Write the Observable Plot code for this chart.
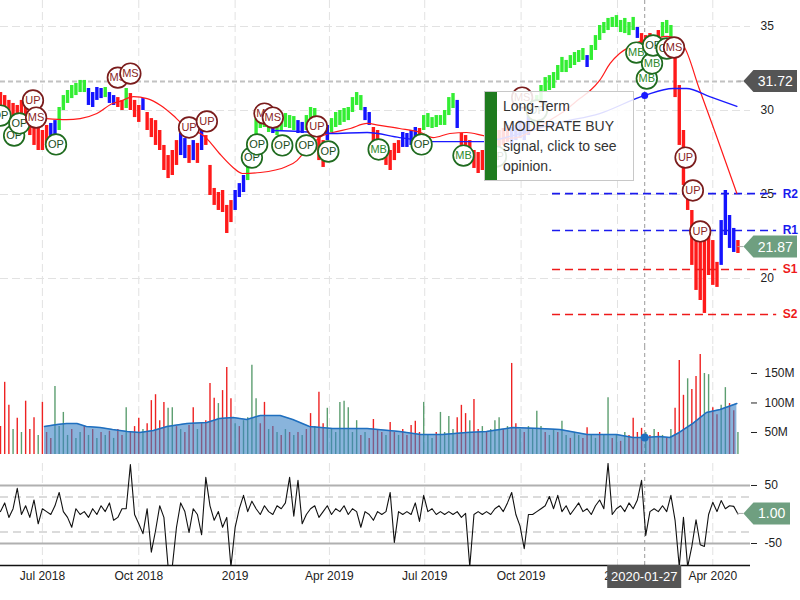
<!DOCTYPE html>
<html><head><meta charset="utf-8">
<script src="https://cdn.jsdelivr.net/npm/d3@7"></script>
<script src="https://cdn.jsdelivr.net/npm/@observablehq/plot@0.6"></script>
<style>
body{margin:0;background:#fff;font-family:"Liberation Sans",Arial,sans-serif;}
#wrap{position:relative;width:800px;height:600px;overflow:hidden;background:#fff;}
#wrap svg{display:block;}
#tip{position:absolute;left:484px;top:91px;width:150px;height:90px;box-sizing:border-box;background:rgba(255,255,255,0.86);border:1px solid #c8c8c8;}
#tip .bar{position:absolute;left:0;top:0;bottom:0;width:12px;background:#1e7b1e;}
#tip .txt{position:absolute;left:18px;top:4px;font-size:14px;line-height:20px;color:#333;white-space:nowrap;}
</style></head>
<body><div id="wrap"></div>
<script>
// ---------- data ----------
const sampleStart = "2018-05-22";
const sampleStepDays = 4;
const barHigh = [
31.07,30.89,30.60,30.42,30.30,30.60,30.42,30.00,29.23,28.93,
28.81,29.11,29.23,29.40,30.18,30.89,31.19,31.49,31.61,31.79,
31.79,31.31,31.07,31.37,31.31,31.37,31.07,30.89,30.77,30.60,
31.31,31.01,30.60,30.30,30.71,29.88,29.52,29.40,28.81,27.92,
27.32,27.62,28.21,28.63,28.33,27.92,28.21,28.04,28.81,28.51,
26.73,25.36,25.12,25.24,24.35,24.64,25.24,25.65,26.13,27.14,
28.51,29.52,29.88,30.00,29.70,29.58,29.52,29.70,29.82,29.70,
29.64,29.40,29.29,29.70,30.18,30.12,28.51,28.21,29.11,29.52,
29.88,30.00,30.12,30.18,30.77,31.07,30.89,30.18,29.88,28.99,
28.81,28.21,27.92,27.62,28.04,28.21,28.69,28.63,28.81,28.99,
28.93,29.70,29.82,29.58,29.70,29.70,30.00,30.77,31.01,30.60,
28.63,28.51,28.21,27.62,27.50,27.62,27.92,28.21,28.51,28.81,
28.93,29.11,28.99,29.11,29.40,29.29,29.70,30.30,30.89,31.49,
31.96,32.08,32.26,32.68,33.16,32.98,33.27,33.45,33.57,33.69,
33.27,33.87,34.46,35.06,35.24,35.48,35.54,35.65,35.36,35.48,
35.24,35.54,34.94,34.58,34.46,34.58,34.46,34.76,35.24,35.36,
35.06,34.17,31.49,28.81,25.54,24.05,23.15,22.56,22.26,22.86,
22.26,20.96,23.45,25.24,23.75,22.98,22.26];
const barLow = [
30.00,29.88,29.40,29.11,28.99,29.40,29.23,28.51,27.92,27.62,
27.62,27.92,28.39,28.51,28.81,30.00,30.42,30.71,30.89,31.07,
31.07,30.30,30.18,30.60,30.71,30.77,30.42,30.30,30.18,30.00,
30.12,30.00,29.58,29.29,30.00,28.81,28.39,27.92,27.62,26.43,
25.95,26.13,26.73,27.32,27.14,26.85,27.02,26.85,27.62,27.92,
24.94,24.35,24.05,23.93,22.68,23.33,24.05,24.82,25.12,25.83,
27.02,28.21,28.93,28.99,28.69,28.63,28.51,28.81,28.99,28.93,
28.81,28.63,28.63,28.81,29.29,29.11,27.02,26.61,28.21,28.69,
28.99,29.11,29.29,29.40,29.88,30.30,30.00,29.40,29.11,27.92,
27.80,27.02,26.73,26.43,27.02,27.44,27.80,27.80,27.92,28.21,
28.04,28.81,28.99,28.93,28.99,29.11,29.11,29.70,30.12,28.93,
27.92,27.80,27.32,26.55,26.25,26.43,26.73,27.02,27.62,27.74,
27.92,28.10,27.92,28.21,28.33,28.21,28.51,29.11,29.70,30.60,
31.07,31.19,31.31,31.79,32.26,32.26,32.50,32.68,32.86,32.98,
32.56,32.98,33.57,34.17,34.58,34.76,34.94,34.94,34.64,34.58,
34.46,34.76,34.29,33.99,33.99,34.05,33.87,34.05,34.35,34.58,
34.17,30.77,27.92,25.54,24.05,20.78,19.29,18.69,17.92,20.18,
19.59,19.47,20.78,22.56,21.79,21.55,21.49];
const trendRuns = [[12,"down"],[2,"neutral"],[7,"up"],[4,"neutral"],[1,"up"],[2,"neutral"],[2,"down"],[1,"up"],[3,"down"],[1,"neutral"],[8,"down"],[2,"neutral"],[1,"down"],[1,"neutral"],[1,"down"],[1,"neutral"],[7,"down"],[3,"neutral"],[6,"up"],[1,"neutral"],[5,"up"],[2,"neutral"],[3,"up"],[2,"down"],[1,"neutral"],[8,"up"],[2,"neutral"],[7,"down"],[4,"neutral"],[1,"down"],[8,"up"],[1,"neutral"],[12,"down"],[5,"neutral"],[13,"up"],[1,"neutral"],[11,"up"],[1,"neutral"],[5,"down"],[3,"up"],[11,"down"],[4,"neutral"],[1,"down"]];
const volumeM = [
60,135,96,55,74,50,103,55,75,45,
101,50,40,128,60,84,45,55,40,50,
60,45,55,40,50,45,52,40,55,45,
92,50,60,74,55,65,104,114,70,101,
91,92,60,55,50,62,92,55,65,70,
133,108,99,121,160,107,65,60,70,75,
164,107,65,101,55,60,50,45,55,50,
45,50,45,55,82,60,118,65,91,55,
50,101,103,92,50,70,45,50,40,72,
55,50,45,67,50,45,55,45,62,69,
50,101,45,40,50,84,50,77,55,75,
96,82,70,106,55,60,50,55,70,75,
55,60,167,65,55,50,60,55,86,60,
50,45,55,50,69,45,40,50,45,40,
58,45,40,50,45,109,40,45,35,50,
45,74,50,57,50,45,55,50,45,40,
55,91,172,113,141,123,145,182,150,148,
92,80,96,126,99,87,50];
const volumeDir = "rrrgrgrrrg" + "rrrggggrgg" + "rgrgrgrgrr" + "grrrgrrrrr" + "ggrgrrrgrr" +
  "rrgrrrgrgg" + "ggrrgrgrgr" + "grgrrgrrgg" + "ggggggrgrr" + "rrgrrgrrrr" + "rgggrggggr" +
  "rrgrrgrggg" + "rgrrgrgggg" + "rggrggrggr" + "rggrggrgrg" + "rrrrgrgrgr" + "grrrgrrrgg" + "rrggrrg";
const oscillator = [
5,20,-5,10,45,0,15,-5,25,-16,
10,5,0,15,38,5,-5,-22,10,0,
5,-5,10,0,15,5,20,-10,-5,10,
10,86,0,-16,-33,10,-65,-28,15,-5,
-90,-90,-22,20,5,-31,10,0,-35,64,
15,-10,5,-22,-5,-90,-22,10,33,5,
23,10,0,15,5,0,15,10,20,64,
-3,59,-16,0,10,15,-5,5,15,0,
10,5,15,0,10,5,-22,5,0,-10,
5,0,5,38,-48,5,0,5,0,20,
-12,33,5,10,0,5,0,5,0,5,
-5,2,-90,0,5,0,5,0,10,15,
5,20,38,0,-20,-59,0,0,5,10,
15,31,10,33,5,15,0,10,20,5,
10,0,15,25,10,88,0,10,15,5,
20,10,25,59,-36,5,10,5,15,5,
33,-10,-90,-5,-90,-55,-9,-52,-55,0,
21,5,24,10,15,14,1];
const fastMADates = ["2018-07-05","2018-07-24","2018-08-06","2018-08-22","2018-09-06","2018-09-13","2018-09-26","2018-10-09","2018-10-22","2018-11-03","2018-11-10","2018-12-05","2018-12-17","2018-12-30","2019-01-08","2019-01-25","2019-02-19","2019-03-01","2019-03-07","2019-03-16","2019-03-26","2019-04-04","2019-04-21","2019-05-07","2019-05-19","2019-06-07","2019-06-27","2019-07-09","2019-07-25","2019-08-10","2019-08-26","2019-09-11","2019-09-27","2019-10-12","2019-10-28","2019-11-12","2019-11-26","2019-12-06","2019-12-15","2019-12-25","2020-01-03","2020-01-13","2020-01-22","2020-02-06","2020-02-17","2020-02-27","2020-03-05","2020-03-19","2020-04-05","2020-04-24"];
const fastMAValues = [29.52,29.46,29.52,29.82,30.42,30.54,30.83,30.71,30.30,29.70,29.29,28.33,27.44,26.61,26.25,26.31,26.67,27.02,27.44,28.04,28.51,28.69,28.93,29.23,29.11,28.93,28.69,28.39,28.63,28.69,28.51,28.33,28.39,28.81,29.40,30.00,30.71,31.19,31.79,32.80,33.39,33.81,34.11,34.29,34.41,34.17,33.75,31.31,28.39,25.06];
const slowMADates = ["2019-02-06","2019-03-04","2019-04-01","2019-05-07","2019-06-07","2019-07-09","2019-08-26","2019-09-30","2019-11-07","2019-12-15","2020-01-27","2020-02-23","2020-03-07","2020-03-29","2020-04-24"];
const slowMAValues = [28.81,28.75,28.63,28.69,28.39,28.15,28.15,28.63,29.29,29.82,30.90,31.31,31.31,30.83,30.24];
const volMADates = ["2018-07-03","2018-07-15","2018-07-24","2018-08-03","2018-08-12","2018-08-25","2018-09-06","2018-09-20","2018-10-02","2018-10-15","2018-10-28","2018-11-16","2018-12-05","2018-12-17","2018-12-30","2019-01-12","2019-01-25","2019-02-13","2019-02-25","2019-03-13","2019-04-04","2019-05-07","2019-06-07","2019-06-27","2019-07-18","2019-08-10","2019-08-29","2019-09-23","2019-10-19","2019-11-07","2019-12-03","2019-12-31","2020-01-16","2020-01-27","2020-02-10","2020-02-20","2020-02-29","2020-03-13","2020-03-26","2020-04-08","2020-04-24"];
const volMAValues = [60.2,63.6,65.3,65.3,60.2,58.5,55.1,51.7,50.0,53.4,60.2,65.3,66.9,73.7,75.4,72.0,78.8,78.8,72.0,60.2,56.8,56.8,51.7,46.6,46.6,50.0,51.7,58.5,56.8,55.1,46.6,46.6,41.5,41.5,43.2,41.5,50.0,65.3,83.9,89.0,99.2];
const signalDates = ["2018-05-22","2018-06-04","2018-06-09","2018-06-22","2018-06-25","2018-07-14","2018-09-11","2018-09-23","2018-11-18","2018-12-05","2019-01-17","2019-01-22","2019-01-29","2019-02-06","2019-02-15","2019-03-10","2019-03-20","2019-03-31","2019-05-18","2019-06-28","2019-08-07","2019-09-07","2019-10-02","2019-10-16","2020-01-19","2020-01-29","2020-02-03","2020-02-04","2020-02-17","2020-02-24","2020-03-06","2020-03-13","2020-03-20"];
const signalPrices = [29.70,28.51,29.23,30.60,29.58,27.98,31.96,32.20,28.99,29.35,27.20,27.98,29.82,29.58,27.92,27.92,29.05,27.56,27.68,27.98,27.32,27.26,30.77,30.00,33.45,31.90,32.80,33.87,33.69,33.75,27.20,25.24,22.80];
const signalTypes = ["OP","OP","OP","UP","MS","OP","MS","MS","UP","UP","OP","OP","MS","MS","OP","OP","UP","OP","MB","OP","MB","OP","MS","OP","MB","MB","MB","OP","OP","MS","UP","UP","UP"];
const levelNames = ["R2","R1","S1","S2"];
const levelValues = [25.05,22.86,20.54,17.86];
const levelStart = "2019-10-31", levelEnd = "2020-06-01";
const refPrice = 31.72, lastPrice = 21.87, oscLast = 1.00;
const crosshairDate = "2020-01-27";
const slowMAAtCrosshair = 30.90, volMAAtCrosshair = 41.5;
const tickDates = ["2018-07-01","2018-10-01","2019-01-01","2019-04-01","2019-07-01","2019-10-01","2020-01-01","2020-04-01"];
const tickLabels = ["Jul 2018","Oct 2018","2019","Apr 2019","Jul 2019","Oct 2019","2020","Apr 2020"];
const priceTicks = [20,25,30,35];
const volumeTicks = [50,100,150];
const oscTicks = [50,-50];
const oscBands = [30,-30];
const tooltipLines = ["Long-Term","MODERATE BUY","signal, click to see","opinion."];

// ---------- build ----------
const D = s => new Date(s);
const trend = trendRuns.flatMap(([n, t]) => Array(n).fill(t));
const t0 = D(sampleStart);
const bars = barHigh.map((h, i) => ({
  date: d3.utcDay.offset(t0, i * sampleStepDays), high: h, low: barLow[i], trend: trend[i],
  vol: volumeM[i], dir: volumeDir[i] === "g" ? "up" : "down", osc: oscillator[i]
}));
const lastDate = bars[bars.length - 1].date;
const fastMA = fastMADates.map((d, i) => ({date: D(d), value: fastMAValues[i]}));
const slowMA = slowMADates.map((d, i) => ({date: D(d), value: slowMAValues[i]}));
const volMA = volMADates.map((d, i) => ({date: D(d), value: volMAValues[i]}));
const signals = signalDates.map((d, i) => ({date: D(d), price: signalPrices[i], type: signalTypes[i]}));
const levels = levelNames.map((n, i) => ({name: n, value: levelValues[i]}));
const crosshair = D(crosshairDate);
const xDomain = [D("2018-05-22"), D("2020-05-07")];
const tickMap = new Map(tickDates.map((d, i) => [+D(d), tickLabels[i]]));

const common = {
  width: 800, marginLeft: 0, marginRight: 50,
  style: {fontFamily: '"Liberation Sans", Arial, sans-serif', fontSize: "12px", color: "#222", background: "transparent", overflow: "visible"}
};
const gridColor = "#e2e2e2", gridDash = "8,4";
const vGrid = () => Plot.ruleX(tickDates.map(D), {stroke: gridColor, strokeDasharray: gridDash});
const cross = () => Plot.ruleX([crosshair], {stroke: "#9a9a9a", strokeDasharray: "4,3"});

const signalMarks = signals.flatMap(s => {
  const green = s.type === "OP" || s.type === "MB";
  const stroke = green ? "#1f6b1f" : "#7a1c1c";
  const txt = s.type === "OP" ? "#1b4d1b" : s.type === "MB" ? "#2e8a2e" : "#8a1f1f";
  return [
    Plot.dot([s], {x: "date", y: "price", r: 10.3, fill: "white", stroke, strokeWidth: 1.7}),
    Plot.text([s], {x: "date", y: "price", text: "type", fill: txt, fontSize: 11})
  ];
});

const resist = levels.filter(l => l.name[0] === "R"), support = levels.filter(l => l.name[0] === "S");
const priceChart = Plot.plot({
  ...common, height: 346, marginTop: 0, marginBottom: 0,
  x: {type: "utc", domain: xDomain, axis: null},
  y: {domain: [15.953, 36.548], axis: "right", ticks: priceTicks, tickSize: 0, tickPadding: 10, label: null},
  color: {domain: ["up", "neutral", "down"], range: ["#33ee33", "#1414ff", "#ff1a1a"]},
  marks: [
    vGrid(),
    Plot.ruleY(priceTicks, {stroke: gridColor, strokeDasharray: gridDash}),
    Plot.ruleY([refPrice], {stroke: "#c2c2c2", strokeWidth: 2, strokeDasharray: "5,3"}),
    cross(),
    Plot.ruleX(bars, {x: "date", y1: "low", y2: "high", stroke: "trend", strokeWidth: 3.4}),
    Plot.ruleY(resist, {y: "value", x1: () => D(levelStart), x2: () => D(levelEnd), stroke: "#1a1aee", strokeWidth: 1.6, strokeDasharray: "8,5"}),
    Plot.ruleY(support, {y: "value", x1: () => D(levelStart), x2: () => D(levelEnd), stroke: "#ee1a1a", strokeWidth: 1.6, strokeDasharray: "8,5"}),
    Plot.line(fastMA, {x: "date", y: "value", stroke: "#ff1a1a", strokeWidth: 1.2, curve: "monotone-x"}),
    Plot.line(slowMA, {x: "date", y: "value", stroke: "#1a1aff", strokeWidth: 1.3, curve: "monotone-x"}),
    Plot.dot([{date: crosshair, value: slowMAAtCrosshair}], {x: "date", y: "value", r: 3.5, fill: "#1a1aff"}),
    ...signalMarks,
    Plot.text(resist, {x: () => D(levelEnd), y: "value", text: "name", dx: 6, textAnchor: "start", fill: "#1a1aee", fontWeight: "bold", fontSize: 12}),
    Plot.text(support, {x: () => D(levelEnd), y: "value", text: "name", dx: 6, textAnchor: "start", fill: "#ee1a1a", fontWeight: "bold", fontSize: 12})
  ]
});

const volChart = Plot.plot({
  ...common, height: 112, marginTop: 0, marginBottom: 4,
  x: {type: "utc", domain: xDomain, axis: null},
  y: {domain: [12.7, 195.7], axis: "right", ticks: volumeTicks, tickSize: 6, tickPadding: 8, tickFormat: d => d + "M", label: null},
  color: {domain: ["up", "down"], range: ["#5c9e70", "#ee2222"]},
  marks: [
    vGrid(), cross(),
    Plot.ruleX(bars, {x: "date", y1: 0, y2: "vol", stroke: "dir", strokeWidth: 1.4, clip: true}),
    Plot.areaY(volMA, {x: "date", y1: 0, y2: "value", fill: "#3a82c4", fillOpacity: 0.6, clip: true}),
    Plot.line(volMA, {x: "date", y: "value", stroke: "#1f6fbf", strokeWidth: 1.5}),
    Plot.dot([{date: crosshair, value: volMAAtCrosshair}], {x: "date", y: "value", r: 4, fill: "#1f6fbf"})
  ]
});

const oscChart = Plot.plot({
  ...common, height: 142, marginTop: 5, marginBottom: 35,
  x: {type: "utc", domain: xDomain, axis: "bottom", ticks: tickDates.map(D), tickFormat: d => tickMap.get(+d), tickSize: 0, tickPadding: 6, label: null},
  y: {domain: [-87.9, 87.9], axis: "right", ticks: oscTicks, tickSize: 6, tickPadding: 8, tickFormat: d => String(d), label: null},
  marks: [
    vGrid(), cross(),
    Plot.ruleY(oscBands, {stroke: "#d0d0d0", strokeWidth: 1.5, strokeDasharray: "8,5"}),
    Plot.ruleY(oscTicks, {stroke: "#b0b0b0", strokeWidth: 2}),
    Plot.line(bars, {x: "date", y: "osc", stroke: "#111", strokeWidth: 1.1, clip: true}),
    Plot.ruleY([-87.9], {stroke: "#111", strokeWidth: 1.5})
  ]
});

// ---------- value tags drawn with the charts' own scales ----------
function addTag(chart, yVal, label, fill, right) {
  const svg = d3.select(chart);
  const xs = chart.scale("x"), ys = chart.scale("y");
  const xl = xs.apply(lastDate), y = ys.apply(yVal);
  const tip = xl + 6, body = tip + 10, h = 11;
  svg.append("line").attr("x1", xl).attr("x2", tip).attr("y1", y).attr("y2", y).attr("stroke", "#aaa");
  svg.append("path").attr("d", `M${tip},${y}L${body},${y - h}L${right},${y - h}L${right},${y + h}L${body},${y + h}Z`).attr("fill", fill);
  svg.append("text").attr("x", (body + right) / 2).attr("y", y).attr("dy", "0.36em").attr("text-anchor", "middle")
    .attr("fill", "#fff").attr("font-size", 14).text(label);
}
addTag(priceChart, refPrice, refPrice.toFixed(2), "#555555", 797);
addTag(priceChart, lastPrice, lastPrice.toFixed(2), "#6f9f80", 797);
addTag(oscChart, oscLast, oscLast.toFixed(2), "#6f9f80", 790);
{
  const svg = d3.select(oscChart);
  const cx = oscChart.scale("x").apply(crosshair);
  const yb = oscChart.scale("y").apply(-87.9);
  svg.append("rect").attr("x", cx - 37).attr("y", yb).attr("width", 74).attr("height", 23).attr("fill", "#555");
  svg.append("text").attr("x", cx).attr("y", yb + 11.5).attr("dy", "0.36em").attr("text-anchor", "middle")
    .attr("fill", "#fff").attr("font-size", 13).text(crosshairDate);
}

const wrap = document.getElementById("wrap");
wrap.append(priceChart, volChart, oscChart);
const tip = document.createElement("div");
tip.id = "tip";
tip.innerHTML = '<div class="bar"></div><div class="txt">' + tooltipLines.join("<br>") + "</div>";
wrap.append(tip);
</script></body></html>
